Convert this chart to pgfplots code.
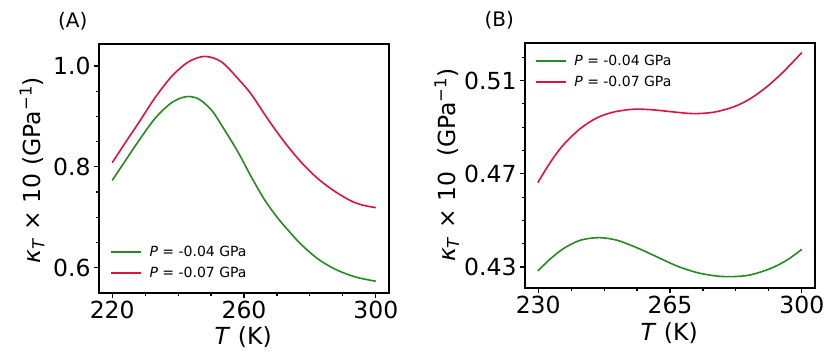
\documentclass[border=0pt]{standalone}
\usepackage{fontspec}
\setmainfont{DejaVu Sans}
\usepackage{pgfplots}
\pgfplotsset{compat=1.18}

\definecolor{gA}{RGB}{34,139,34}
\definecolor{rA}{RGB}{220,20,60}

% panel A: T (K), kappa_T x 10
\pgfplotstableread{
T kg
220 0.773
224 0.812
228 0.851
233 0.896
238 0.927
242.3 0.939
246.1 0.935
250.2 0.912
254.2 0.872
258.2 0.829
262.3 0.779
266.3 0.734
270.4 0.697
274.5 0.666
277.5 0.645
282.5 0.617
287.6 0.597
292.6 0.584
296 0.578
300 0.573
}\dataAg
\pgfplotstableread{
T kr
220 0.808
224 0.848
228 0.887
233 0.937
238 0.979
243.1 1.008
248.1 1.019
253.2 1.008
258.7 0.971
262.3 0.943
267.3 0.894
272.4 0.848
277.5 0.808
282.5 0.776
287.6 0.751
292.6 0.732
296 0.724
300 0.719
}\dataAr

% panel B
\pgfplotstableread{
T kg
229.9 0.4283
233.3 0.4336
236.8 0.4380
241.2 0.4415
246.1 0.4426
250.9 0.4415
256.3 0.4382
261.6 0.4343
266.9 0.4304
272.2 0.4276
277.5 0.4261
281.9 0.4259
286.3 0.4266
291.6 0.4293
296.0 0.4329
300.0 0.4376
}\dataBg
\pgfplotstableread{
T kr
229.9 0.4662
233.3 0.4751
236.8 0.4826
241.2 0.4894
245.6 0.4940
250.1 0.4965
255.4 0.4977
260.7 0.4974
266.0 0.4965
271.3 0.4958
276.6 0.4964
281.9 0.4987
286.3 0.5022
290.7 0.5073
295.2 0.5139
300.0 0.5220
}\dataBr

\pgfplotsset{
  panel/.style={
    scale only axis, width=290pt,
    axis line style={line width=1.8pt},
    tick pos=left, tick align=outside,
    major tick length=5pt, minor tick length=3pt,
    every tick/.style={black, line width=1.1pt},
    tick label style={font=\fontsize{23.5}{28}\selectfont},
    label style={font=\fontsize{23.5}{28}\selectfont},
    legend cell align=left,
    legend image code/.code={\draw[##1] (0pt,0pt) -- (30pt,0pt);},
    legend style={draw=none, fill=none, font=\fontsize{14}{17}\selectfont,
      inner sep=0pt, row sep=5pt, column sep=6pt, nodes={inner sep=2pt}},
  },
}

\begin{document}
\begin{tikzpicture}
\useasboundingbox (0,0) rectangle (830pt,352pt);

\begin{axis}[panel,
  at={(99pt,59pt)}, anchor=south west, height=249pt,
  xmin=216, xmax=304, ymin=0.5497, ymax=1.0436,
  xtick={220,260,300}, xticklabels={220,260,300},
  minor xtick={230,240,250,270,280,290},
  ytick={0.6,0.8,1.0}, yticklabels={0.6,0.8,1.0},
  minor ytick={0.65,0.7,0.75,0.85,0.9,0.95},
  xlabel={\textit{T} (K)},
  ylabel={\textit{κ}\textsubscript{\textit{T}} × 10 (GPa\textsuperscript{−1})},
  xlabel style={at={(axis description cs:0.497,-0.177)}, anchor=center},
  ylabel style={at={(axis description cs:-0.231,0.494)}, anchor=center},
  legend style={at={(axis description cs:0.037,0.197)}, anchor=north west},
]
\addplot[gA, line width=1.6pt, smooth] table[x=T, y=kg] {\dataAg};
\addplot[rA, line width=1.6pt, smooth] table[x=T, y=kr] {\dataAr};
\legend{\textit{P} = -0.04 GPa, \textit{P} = -0.07 GPa}
\end{axis}

\begin{axis}[panel,
  at={(525pt,64pt)}, anchor=south west, height=245pt,
  xmin=226.5, xmax=303.5, ymin=0.421, ymax=0.5261,
  xtick={230,265,300}, xticklabels={230,265,300},
  minor xtick={238.75,247.5,256.25,273.75,282.5,291.25},
  ytick={0.43,0.47,0.51}, yticklabels={0.43,0.47,0.51},
  minor ytick={0.44,0.45,0.46,0.48,0.49,0.50,0.52},
  xlabel={\textit{T} (K)},
  ylabel={\textit{κ}\textsubscript{\textit{T}} × 10\ \ (GPa\textsuperscript{−1})},
  xlabel style={at={(axis description cs:0.497,-0.184)}, anchor=center},
  ylabel style={at={(axis description cs:-0.27,0.502)}, anchor=center},
  legend style={at={(axis description cs:0.033,0.96)}, anchor=north west},
]
\addplot[gA, line width=1.6pt, smooth] table[x=T, y=kg] {\dataBg};
\addplot[rA, line width=1.6pt, smooth] table[x=T, y=kr] {\dataBr};
\legend{\textit{P} = -0.04 GPa, \textit{P} = -0.07 GPa}
\end{axis}

\node[font=\fontsize{20}{24}\selectfont] at (72.8pt,330.3pt) {(A)};
\node[font=\fontsize{20}{24}\selectfont] at (499.3pt,331.3pt) {(B)};
\end{tikzpicture}
\end{document}
